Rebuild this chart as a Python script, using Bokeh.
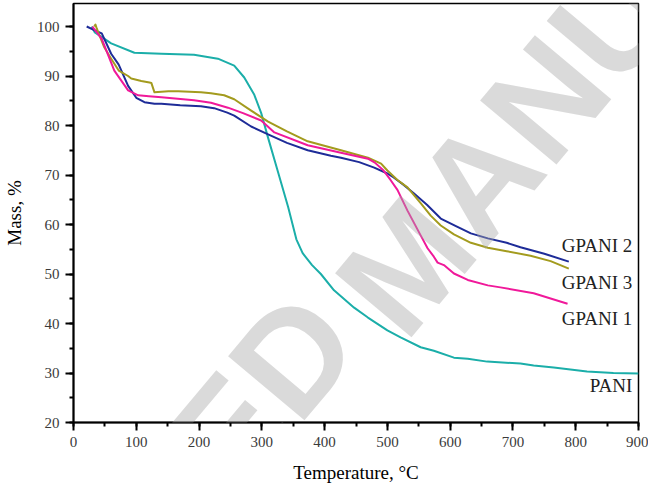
import math
from bokeh.plotting import figure
from bokeh.models import Range1d, Label, SingleIntervalTicker
from bokeh.embed import file_html
from bokeh.resources import INLINE

# ---- data ----
pani_t = [29, 34, 60, 97, 140, 192, 230, 256, 272, 288, 299, 310, 326, 342, 355, 365, 380, 394,
          415, 447, 469, 500, 521, 553, 574, 606, 628, 659, 712, 733, 765, 818, 860, 900]
pani_m = [100, 98.8, 96.6, 94.7, 94.5, 94.3, 93.5, 92.1, 89.7, 86.2, 82.5, 77.5, 70.5, 63.5, 57.0,
          54.2, 51.8, 50.0, 46.7, 43.2, 41.2, 38.6, 37.2, 35.2, 34.5, 33.1, 32.9, 32.3, 31.9, 31.5,
          31.1, 30.3, 30.0, 29.9]

gpani2_t = [21, 34, 45, 60, 72, 87, 100, 113, 129, 140, 170, 203, 224, 245, 256, 283, 310, 340, 373,
            410, 426, 455, 479, 500, 510, 526, 542, 563, 585, 610, 633, 660, 690, 712, 750, 789]
gpani2_m = [100, 99.2, 98.6, 94.5, 92.3, 88.0, 85.6, 84.7, 84.4, 84.4, 84.1, 83.9, 83.5, 82.6, 82.0,
            79.8, 78.2, 76.5, 75.0, 73.9, 73.5, 72.6, 71.5, 70.3, 69.5, 68.0, 66.3, 64.0, 61.2, 59.6,
            58.2, 57.2, 56.3, 55.4, 54.1, 52.5]

gpani3_t = [33, 35, 37, 49, 60, 72, 87, 92, 108, 121, 124, 129, 151, 167, 203, 219, 240, 256, 283,
            310, 340, 373, 426, 469, 490, 500, 516, 532, 553, 569, 585, 606, 633, 660, 690, 728, 760, 789]
gpani3_m = [100, 100.4, 99.6, 95.8, 93.5, 91.1, 90.0, 89.5, 89.0, 88.7, 88.6, 86.7, 86.9, 86.9, 86.7,
            86.5, 86.1, 85.3, 83.0, 80.8, 78.8, 76.8, 75.0, 73.5, 72.3, 70.9, 69.0, 67.5, 64.3, 61.8,
            59.8, 58.0, 56.3, 55.3, 54.6, 53.7, 52.6, 51.1]

gpani1_t = [30, 45, 65, 87, 103, 120, 140, 192, 219, 246, 270, 299, 320, 373, 426, 469, 480, 494, 505,
            516, 532, 553, 564, 574, 580, 590, 606, 628, 660, 680, 733, 787]
gpani1_m = [100, 97.5, 91.1, 87.1, 86.1, 85.9, 85.7, 85.1, 84.6, 83.6, 82.5, 81.0, 78.6, 76.0, 74.5,
            73.3, 72.5, 70.9, 69.0, 67.0, 62.8, 57.8, 55.2, 53.5, 52.3, 51.8, 50.1, 48.8, 47.7, 47.3,
            46.1, 44.0]

series_names = ["PANI", "GPANI 2", "GPANI 3", "GPANI 1"]
label_t = [890, 890, 890, 890]
label_m = [27.5, 55.8, 48.3, 41.0]

watermark_words = ["ACCEPTED", "MANUSCRIPT"]

# ---- styles ----
c_pani = "#1BAEA9"
c_g2 = "#1E2C98"
c_g3 = "#A39B1E"
c_g1 = "#F0199A"
serif = "Liberation Serif"

# frame in page pixels: left 72, right 638, top 3, bottom 422
W, H = 648, 486
Y_TOP = 20 + (422 - 3) * 80 / 396
p = figure(width=W, height=H, output_backend="svg", toolbar_location=None,
           x_range=Range1d(0, 900), y_range=Range1d(20, Y_TOP),
           min_border_left=72, min_border_right=W - 638, min_border_top=3,
           min_border_bottom=H - 422)
p.grid.visible = False
p.background_fill_color = "white"
p.border_fill_color = "white"
p.outline_line_color = "black"
p.outline_line_width = 1.5

for ax in (p.xaxis[0], p.yaxis[0]):
    ax.axis_line_width = 2
    ax.axis_line_color = "black"
    ax.major_tick_line_width = 2
    ax.major_tick_line_color = "black"
    ax.minor_tick_line_width = 2
    ax.minor_tick_line_color = "black"
    ax.major_tick_in = 0
    ax.major_tick_out = 8
    ax.minor_tick_in = 0
    ax.minor_tick_out = 4
    ax.major_label_text_font = serif
    ax.major_label_text_font_size = "15px"
    ax.major_label_text_color = "#3a3a3a"
    ax.major_label_standoff = 6
    ax.axis_label_text_font = serif
    ax.axis_label_text_font_size = "19px"
    ax.axis_label_text_font_style = "normal"
    ax.axis_label_text_color = "black"

p.xaxis[0].ticker = SingleIntervalTicker(interval=100, num_minor_ticks=2)
p.yaxis[0].ticker = SingleIntervalTicker(interval=10, num_minor_ticks=2)
p.xaxis[0].axis_label = "Temperature, °C"
p.yaxis[0].axis_label = "Mass, %"
p.xaxis[0].axis_label_standoff = 12
p.yaxis[0].axis_label_standoff = 9

p.line(pani_t, pani_m, line_color=c_pani, line_width=2, line_join="round")
p.line(gpani2_t, gpani2_m, line_color=c_g2, line_width=2, line_join="round")
p.line(gpani3_t, gpani3_m, line_color=c_g3, line_width=2, line_join="round")
p.line(gpani1_t, gpani1_m, line_color=c_g1, line_width=2, line_join="round")

for name, tx, my in zip(series_names, label_t, label_m):
    p.add_layout(Label(x=tx, y=my, text=name, text_align="right", text_baseline="middle",
                       text_font=serif, text_font_size="19px", text_color="#222222"))

# ---- watermark ----
def px_to_t(px):
    return (px - 72) * 900 / 566

def py_to_m(py):
    return 20 + (422 - py) * 80 / 396

ang = math.radians(50)
fs = 145
bx_px, by_px = 366, 312          # start of second word on the baseline (page px)
gap = 0.278 * fs
ax_px = bx_px - gap * math.cos(ang) - 14
ay_px = by_px + gap * math.sin(ang) - 28
for txt, x0, y0, al in ((watermark_words[0], ax_px, ay_px, "right"),
                        (watermark_words[1], bx_px, by_px, "left")):
    p.add_layout(Label(x=px_to_t(x0), y=py_to_m(y0), text=txt, angle=ang, text_align=al,
                       text_baseline="alphabetic", text_font="Liberation Sans",
                       text_font_style="bold",
                       text_font_size=f"{fs}px", text_color="#A8A8A8", text_alpha=0.42))

open("out.html", "w").write(file_html(p, INLINE))
